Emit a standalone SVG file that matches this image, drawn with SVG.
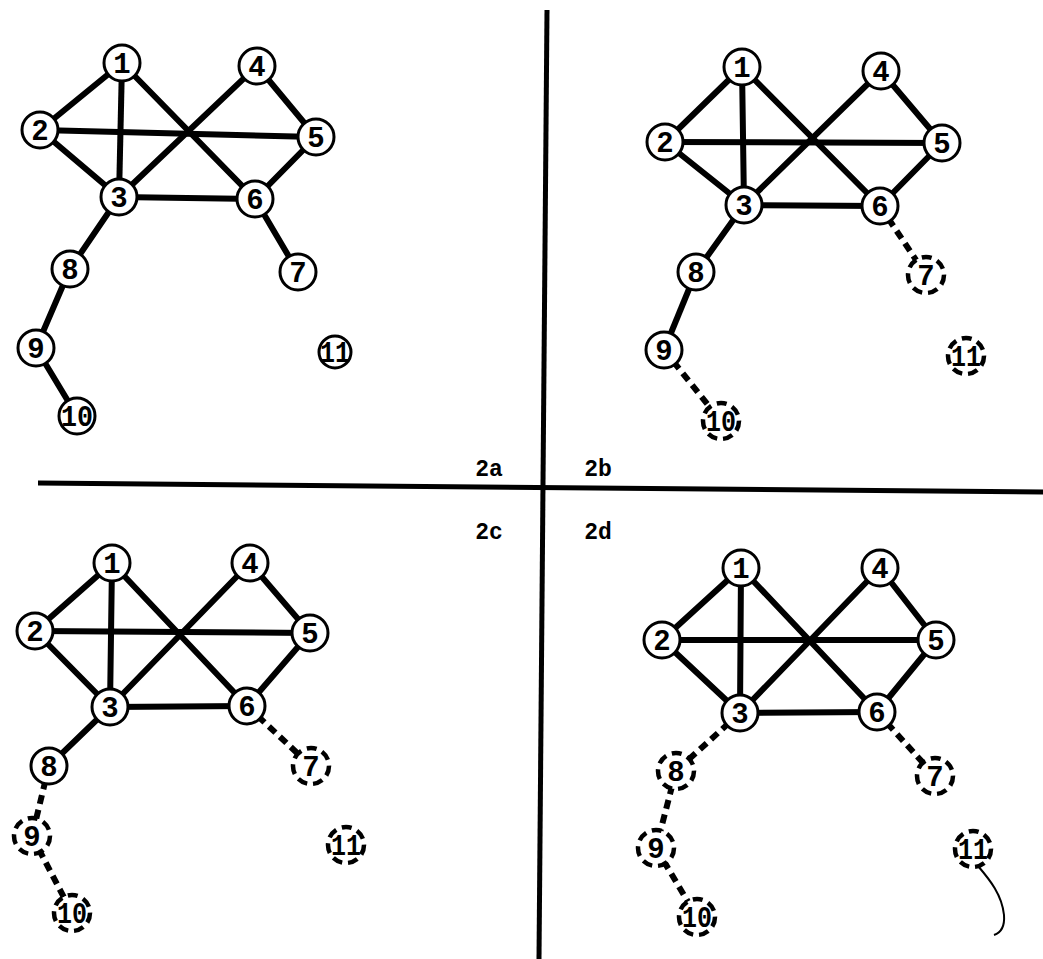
<svg xmlns="http://www.w3.org/2000/svg" width="1043" height="959" viewBox="0 0 1043 959">
<style>
.e{stroke:#000;stroke-width:6;stroke-linecap:round;fill:none}
.d{stroke:#000;stroke-width:6;stroke-dasharray:9 6;fill:none}
.n circle{fill:#fff;stroke:#000;stroke-width:3}
.dn circle{fill:#fff;stroke:#000;stroke-width:4.5;stroke-dasharray:10 6}
text{font-family:"Liberation Mono","DejaVu Sans Mono",monospace;font-weight:bold;font-size:29px;text-anchor:middle;fill:#000}
.lab{font-size:23px}
.ax{stroke:#000;stroke-width:5;fill:none}
</style>
<rect width="1043" height="959" fill="#fff"/>
<g id="axes">
<line class="ax" x1="547" y1="10" x2="539" y2="959"/>
<line class="ax" x1="38" y1="483" x2="1043" y2="492"/>
</g>
<g id="labels">
<text class="lab" x="489" y="476">2a</text>
<text class="lab" x="598" y="476">2b</text>
<text class="lab" x="489" y="539">2c</text>
<text class="lab" x="598" y="539">2d</text>
</g>
<g id="connectors">
<!-- 2a -->
<line class="e" x1="122" y1="63" x2="40" y2="130"/>
<line class="e" x1="122" y1="63" x2="119" y2="197"/>
<line class="e" x1="122" y1="63" x2="255" y2="199"/>
<line class="e" x1="40" y1="130" x2="119" y2="197"/>
<line class="e" x1="40" y1="130" x2="316" y2="137"/>
<line class="e" x1="119" y1="197" x2="257" y2="66"/>
<line class="e" x1="119" y1="197" x2="255" y2="199"/>
<line class="e" x1="257" y1="66" x2="316" y2="137"/>
<line class="e" x1="316" y1="137" x2="255" y2="199"/>
<line class="e" x1="119" y1="197" x2="70" y2="269"/>
<line class="e" x1="70" y1="269" x2="36" y2="348"/>
<line class="e" x1="36" y1="348" x2="77" y2="416"/>
<line class="e" x1="255" y1="199" x2="298" y2="272"/>
<!-- 2b -->
<line class="e" x1="742" y1="67" x2="665" y2="142"/>
<line class="e" x1="742" y1="67" x2="744" y2="205"/>
<line class="e" x1="742" y1="67" x2="880" y2="206"/>
<line class="e" x1="665" y1="142" x2="744" y2="205"/>
<line class="e" x1="665" y1="142" x2="942" y2="143"/>
<line class="e" x1="744" y1="205" x2="881" y2="71"/>
<line class="e" x1="744" y1="205" x2="880" y2="206"/>
<line class="e" x1="881" y1="71" x2="942" y2="143"/>
<line class="e" x1="942" y1="143" x2="880" y2="206"/>
<line class="e" x1="744" y1="205" x2="696" y2="272"/>
<line class="e" x1="696" y1="272" x2="664" y2="350"/>
<line class="d" x1="664" y1="350" x2="721" y2="421"/>
<line class="d" x1="880" y1="206" x2="926" y2="275"/>
<!-- 2c -->
<line class="e" x1="112" y1="563" x2="35" y2="631"/>
<line class="e" x1="112" y1="563" x2="110" y2="707"/>
<line class="e" x1="112" y1="563" x2="247" y2="706"/>
<line class="e" x1="35" y1="631" x2="110" y2="707"/>
<line class="e" x1="35" y1="631" x2="310" y2="633"/>
<line class="e" x1="110" y1="707" x2="250" y2="563"/>
<line class="e" x1="110" y1="707" x2="247" y2="706"/>
<line class="e" x1="250" y1="563" x2="310" y2="633"/>
<line class="e" x1="310" y1="633" x2="247" y2="706"/>
<line class="e" x1="110" y1="707" x2="49" y2="766"/>
<line class="d" x1="49" y1="766" x2="32" y2="836"/>
<line class="d" x1="32" y1="836" x2="72" y2="913"/>
<line class="d" x1="247" y1="706" x2="311" y2="766"/>
<!-- 2d -->
<line class="e" x1="741" y1="568" x2="662" y2="640"/>
<line class="e" x1="741" y1="568" x2="740" y2="713"/>
<line class="e" x1="741" y1="568" x2="877" y2="712"/>
<line class="e" x1="662" y1="640" x2="740" y2="713"/>
<line class="e" x1="662" y1="640" x2="936" y2="640"/>
<line class="e" x1="740" y1="713" x2="880" y2="568"/>
<line class="e" x1="740" y1="713" x2="877" y2="712"/>
<line class="e" x1="880" y1="568" x2="936" y2="640"/>
<line class="e" x1="936" y1="640" x2="877" y2="712"/>
<line class="d" x1="740" y1="713" x2="676" y2="771"/>
<line class="d" x1="676" y1="771" x2="656" y2="848"/>
<line class="d" x1="656" y1="848" x2="697" y2="917"/>
<line class="d" x1="877" y1="712" x2="935" y2="776"/>
<path d="M978 866 C990 880 1002 895 1004 915 C1005 928 1000 933 994 935" stroke="#000" stroke-width="2" fill="none"/>
</g>
<!-- 2a nodes -->
<g id="a1" class="n"><circle cx="122" cy="63" r="18"/><text x="122" y="73">1</text></g>
<g id="a2" class="n"><circle cx="40" cy="130" r="18"/><text x="40" y="140">2</text></g>
<g id="a3" class="n"><circle cx="119" cy="197" r="18"/><text x="119" y="207">3</text></g>
<g id="a4" class="n"><circle cx="257" cy="66" r="18"/><text x="257" y="76">4</text></g>
<g id="a5" class="n"><circle cx="316" cy="137" r="18"/><text x="316" y="147">5</text></g>
<g id="a6" class="n"><circle cx="255" cy="199" r="18"/><text x="255" y="209">6</text></g>
<g id="a7" class="n"><circle cx="298" cy="272" r="18"/><text x="298" y="282">7</text></g>
<g id="a8" class="n"><circle cx="70" cy="269" r="18"/><text x="70" y="279">8</text></g>
<g id="a9" class="n"><circle cx="36" cy="348" r="18"/><text x="36" y="358">9</text></g>
<g id="a10" class="n"><circle cx="77" cy="416" r="18"/><text x="77" y="426" textLength="32" lengthAdjust="spacingAndGlyphs">10</text></g>
<g id="a11" class="n"><circle cx="335" cy="352" r="16"/><text x="335" y="362" textLength="30" lengthAdjust="spacingAndGlyphs">11</text></g>
<!-- 2b nodes -->
<g id="b1" class="n"><circle cx="742" cy="67" r="18"/><text x="742" y="77">1</text></g>
<g id="b2" class="n"><circle cx="665" cy="142" r="18"/><text x="665" y="152">2</text></g>
<g id="b3" class="n"><circle cx="744" cy="205" r="18"/><text x="744" y="215">3</text></g>
<g id="b4" class="n"><circle cx="881" cy="71" r="18"/><text x="881" y="81">4</text></g>
<g id="b5" class="n"><circle cx="942" cy="143" r="18"/><text x="942" y="153">5</text></g>
<g id="b6" class="n"><circle cx="880" cy="206" r="18"/><text x="880" y="216">6</text></g>
<g id="b7" class="dn"><circle cx="926" cy="275" r="18"/><text x="926" y="285">7</text></g>
<g id="b8" class="n"><circle cx="696" cy="272" r="18"/><text x="696" y="282">8</text></g>
<g id="b9" class="n"><circle cx="664" cy="350" r="18"/><text x="664" y="360">9</text></g>
<g id="b10" class="dn"><circle cx="721" cy="421" r="18"/><text x="721" y="431" textLength="30" lengthAdjust="spacingAndGlyphs">10</text></g>
<g id="b11" class="dn"><circle cx="966" cy="356" r="18"/><text x="966" y="366" textLength="30" lengthAdjust="spacingAndGlyphs">11</text></g>
<!-- 2c nodes -->
<g id="c1" class="n"><circle cx="112" cy="563" r="18"/><text x="112" y="573">1</text></g>
<g id="c2" class="n"><circle cx="35" cy="631" r="18"/><text x="35" y="641">2</text></g>
<g id="c3" class="n"><circle cx="110" cy="707" r="18"/><text x="110" y="717">3</text></g>
<g id="c4" class="n"><circle cx="250" cy="563" r="18"/><text x="250" y="573">4</text></g>
<g id="c5" class="n"><circle cx="310" cy="633" r="18"/><text x="310" y="643">5</text></g>
<g id="c6" class="n"><circle cx="247" cy="706" r="18"/><text x="247" y="716">6</text></g>
<g id="c7" class="dn"><circle cx="311" cy="766" r="18"/><text x="311" y="776">7</text></g>
<g id="c8" class="n"><circle cx="49" cy="766" r="18"/><text x="49" y="776">8</text></g>
<g id="c9" class="dn"><circle cx="32" cy="836" r="18"/><text x="32" y="846">9</text></g>
<g id="c10" class="dn"><circle cx="72" cy="913" r="18"/><text x="72" y="923" textLength="30" lengthAdjust="spacingAndGlyphs">10</text></g>
<g id="c11" class="dn"><circle cx="346" cy="845" r="18"/><text x="346" y="855" textLength="30" lengthAdjust="spacingAndGlyphs">11</text></g>
<!-- 2d nodes -->
<g id="d1" class="n"><circle cx="741" cy="568" r="18"/><text x="741" y="578">1</text></g>
<g id="d2" class="n"><circle cx="662" cy="640" r="18"/><text x="662" y="650">2</text></g>
<g id="d3" class="n"><circle cx="740" cy="713" r="18"/><text x="740" y="723">3</text></g>
<g id="d4" class="n"><circle cx="880" cy="568" r="18"/><text x="880" y="578">4</text></g>
<g id="d5" class="n"><circle cx="936" cy="640" r="18"/><text x="936" y="650">5</text></g>
<g id="d6" class="n"><circle cx="877" cy="712" r="18"/><text x="877" y="722">6</text></g>
<g id="d7" class="dn"><circle cx="935" cy="776" r="18"/><text x="935" y="786">7</text></g>
<g id="d8" class="dn"><circle cx="676" cy="771" r="18"/><text x="676" y="781">8</text></g>
<g id="d9" class="dn"><circle cx="656" cy="848" r="18"/><text x="656" y="858">9</text></g>
<g id="d10" class="dn"><circle cx="697" cy="917" r="18"/><text x="697" y="927" textLength="30" lengthAdjust="spacingAndGlyphs">10</text></g>
<g id="d11" class="dn"><circle cx="973" cy="849" r="18"/><text x="973" y="859" textLength="30" lengthAdjust="spacingAndGlyphs">11</text></g>
</svg>
